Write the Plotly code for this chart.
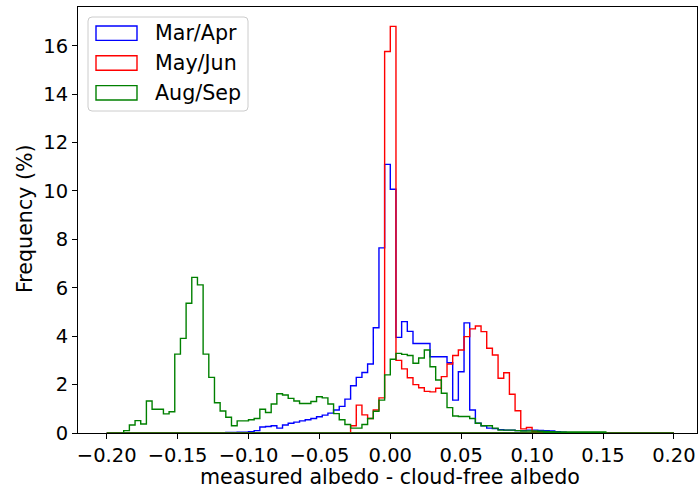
import numpy as np
import plotly.graph_objects as go

# ---- data: histogram frequencies (%) in 100 bins of width 0.004 from -0.2 to 0.2 ----
bin_start = -0.2
bin_width = 0.004
n_bins = 100

mar_apr = [0]*21 + [
    0.02, 0.02, 0.03, 0.03, 0.05,            # b21-25
    0.10, 0.25, 0.27, 0.30, 0.20,            # b26-30
    0.33, 0.40, 0.45, 0.50, 0.55,            # b31-35
    0.60, 0.67, 0.74, 0.82, 0.95,            # b36-40
    1.10, 1.40, 1.95, 2.30, 2.50,            # b41-45
    2.85, 4.35, 7.65, 11.10, 10.07,          # b46-50
    3.95, 4.60, 4.20, 3.70, 3.70,            # b51-55
    3.70, 3.15, 3.15, 3.15, 2.90,            # b56-60
    1.36, 2.53, 4.55, 0.95, 0.40,            # b61-65
    0.30, 0.20, 0.18, 0.14, 0.12,            # b66-70
    0.12, 0.10, 0.10, 0.12, 0.12,            # b71-75
    0.11, 0.10, 0.08, 0.05, 0.03,            # b76-80
] + [0]*19

may_jun = [0]*43 + [
    0.30, 1.15, 0.75, 0.60, 0.95,            # b43-47
    1.45, 15.76, 16.80, 3.00, 2.65,          # b48-52
    2.28, 2.00, 1.87, 1.72, 1.70,            # b53-57
    1.85, 2.33, 2.85, 3.20, 3.43,            # b58-62
    3.98, 4.30, 4.42, 4.19, 3.50,            # b63-67
    3.22, 2.26, 2.49, 1.60, 0.92,            # b68-72
    0.17, 0.23, 0.05, 0.03, 0.02,            # b73-77
] + [0]*22

aug_sep = [0]*3 + [
    0.10, 0.33, 0.51, 0.37, 1.32,            # b3-7
    0.98, 0.98, 0.79, 0.88, 3.26,            # b8-12
    3.91, 5.36, 6.43, 6.12, 3.26,            # b13-17
    2.30, 1.25, 0.91, 0.65, 0.30,            # b18-22
    0.50, 0.50, 0.55, 0.60, 0.98,            # b23-27
    0.85, 1.20, 1.62, 1.57, 1.43,            # b28-32
    1.32, 1.22, 1.22, 1.30, 1.50,            # b33-37
    1.45, 1.20, 0.80, 0.55, 0.35,            # b38-42
    0.20, 0.20, 0.35, 0.60, 0.90,            # b43-47
    1.36, 2.40, 3.05, 3.29, 3.25,            # b48-52
    3.20, 2.88, 3.10, 3.43, 2.74,            # b53-57
    2.19, 1.64, 1.05, 0.70, 0.68,            # b58-62
    0.68, 0.60, 0.40, 0.30, 0.30,            # b63-67
    0.20, 0.12, 0.12, 0.12, 0.10,            # b68-72
    0.08, 0.08, 0.08, 0.07, 0.06,            # b73-77
    0.05, 0.04, 0.04, 0.04, 0.04,            # b78-82
    0.04, 0.04, 0.04, 0.04, 0.04,            # b83-87
] + [0]*12

series_names = ["Mar/Apr", "May/Jun", "Aug/Sep"]
series_values = [mar_apr, may_jun, aug_sep]
series_colors = ["#0000ff", "#ff0000", "#008000"]

x_ticks = [-0.20, -0.15, -0.10, -0.05, 0.00, 0.05, 0.10, 0.15, 0.20]
x_tick_labels = ["\u22120.20", "\u22120.15", "\u22120.10", "\u22120.05", "0.00",
                 "0.05", "0.10", "0.15", "0.20"]
y_ticks = [0, 2, 4, 6, 8, 10, 12, 14, 16]
x_title = "measured albedo - cloud-free albedo"
y_title = "Frequency (%)"

edges = bin_start + bin_width * np.arange(n_bins + 1)

FONT = "DejaVu Sans"
FS_TICK = 19.5
FS = 20.6

W, H = 698, 486
L, R, T, B = 78, 1, 7, 53
pw, ph = W - L - R, H - T - B

fig = go.Figure()
for name, vals, col in zip(series_names, series_values, series_colors):
    v = np.asarray(vals, dtype=float)
    xs = np.concatenate([[edges[0]], edges[:-1], [edges[-1]], [edges[0]]])
    ys = np.concatenate([[0.0], v, [0.0], [0.0]])
    fig.add_trace(go.Scatter(x=xs, y=ys, mode="lines", line=dict(color=col, width=1.4, shape="hv"),
                             name=name, showlegend=False, hoverinfo="skip"))

# x range so that -0.2 and 0.2 land where the reference puts them
px_per_unit = 1418.0
x0 = -0.2 - (106.7 - L) / px_per_unit
x1 = x0 + pw / px_per_unit
y_top = 17.6

fig.update_layout(
    width=W, height=H,
    margin=dict(l=L, r=R, t=T, b=B, pad=0),
    paper_bgcolor="white", plot_bgcolor="white",
    font=dict(family=FONT, size=FS_TICK, color="black"),
    showlegend=False,
    xaxis=dict(range=[x0, x1], tickvals=x_ticks, ticktext=x_tick_labels,
               showgrid=False, zeroline=False, showline=True, mirror=True,
               linecolor="black", linewidth=1.1, ticks="outside", ticklen=5,
               tickwidth=1.1, tickcolor="black", tickfont=dict(size=FS_TICK)),
    yaxis=dict(range=[0, y_top], tickvals=y_ticks,
               showgrid=False, zeroline=False, showline=True, mirror=True,
               linecolor="black", linewidth=1.1, ticks="outside", ticklen=5,
               tickwidth=1.1, tickcolor="black", tickfont=dict(size=FS_TICK)),
)


def px_to_paper(px, py):
    return (px - L) / pw, (H - B - py) / ph


# axis titles placed like the reference
tx, ty = px_to_paper(390.3, 477)
fig.add_annotation(x=tx, y=ty, xref="paper", yref="paper", text=x_title, showarrow=False,
                   xanchor="center", yanchor="middle", font=dict(family=FONT, size=FS, color="black"))
tx, ty = px_to_paper(25, 219)
fig.add_annotation(x=tx, y=ty, xref="paper", yref="paper", text=y_title, showarrow=False,
                   textangle=-90, xanchor="center", yanchor="middle",
                   font=dict(family=FONT, size=FS, color="black"))

# ---- legend drawn like matplotlib's (outlined patches inside a rounded box) ----
bx0, by0 = px_to_paper(88, 17)
bx1, by1 = px_to_paper(248, 111)
rx, ry = 4 / pw, 4 / ph
path = (f"M {bx0+rx},{by0} L {bx1-rx},{by0} Q {bx1},{by0} {bx1},{by0-ry} "
        f"L {bx1},{by1+ry} Q {bx1},{by1} {bx1-rx},{by1} "
        f"L {bx0+rx},{by1} Q {bx0},{by1} {bx0},{by1+ry} "
        f"L {bx0},{by0-ry} Q {bx0},{by0} {bx0+rx},{by0} Z")
fig.add_shape(type="path", path=path, xref="paper", yref="paper",
              line=dict(color="#cccccc", width=1), fillcolor="rgba(255,255,255,0.8)", layer="above")

row_centers = [33.2, 63.0, 92.8]
for name, col, cy in zip(series_names, series_colors, row_centers):
    ax0, ay0 = px_to_paper(96, cy - 7.2)
    ax1, ay1 = px_to_paper(137, cy + 7.2)
    fig.add_shape(type="rect", xref="paper", yref="paper", x0=ax0, x1=ax1, y0=ay0, y1=ay1,
                  line=dict(color=col, width=1.4), fillcolor="rgba(0,0,0,0)", layer="above")
    tx, ty = px_to_paper(153, cy)
    fig.add_annotation(x=tx, y=ty, xref="paper", yref="paper", text=name, showarrow=False,
                       xanchor="left", yanchor="middle", font=dict(family=FONT, size=FS, color="black"))

fig.write_html("out.html")
